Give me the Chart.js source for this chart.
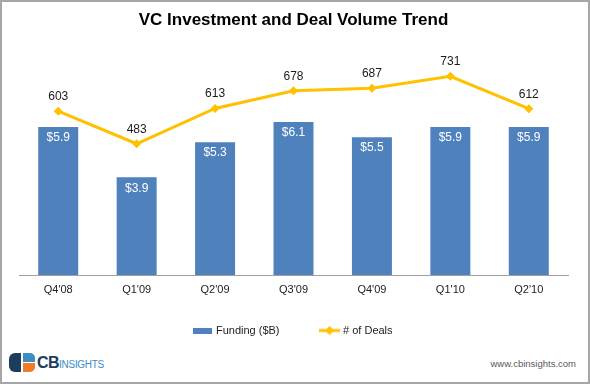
<!DOCTYPE html>
<html><head><meta charset="utf-8">
<script src="https://cdn.jsdelivr.net/npm/chart.js@4.4.1/dist/chart.umd.min.js"></script>
<style>
html,body{margin:0;padding:0;background:#fff;}
#frame{position:absolute;left:0;top:0;width:590px;height:384px;box-sizing:border-box;border:2px solid #a6a6a6;background:#fff;}
#c{position:absolute;left:0;top:0;}
#logo{position:absolute;left:9px;top:353px;height:20px;}
.lg{position:absolute;}
#brand{position:absolute;left:37px;top:354px;font-family:"Liberation Sans",Arial,sans-serif;white-space:nowrap;line-height:18px;}
#brand .cb{font-weight:bold;font-size:16px;color:#1c3d5c;letter-spacing:-0.5px;}
#brand .ins{font-size:10px;color:#3d8cc4;letter-spacing:-0.3px;}
#url{position:absolute;right:14px;top:358px;font-family:"Liberation Sans",Arial,sans-serif;font-size:9.5px;color:#5a5a5a;}
</style></head>
<body>
<div id="frame"></div>
<canvas id="c" width="590" height="346"></canvas>
<div id="logo">
  <div class="lg" style="left:0;top:0;width:12px;height:19px;background:#1c3d5c;border-radius:6px 0 0 6px;"></div>
  <div class="lg" style="left:13.5px;top:0;width:12px;height:8.5px;background:#3d8cc4;border-radius:0 5px 0 0;"></div>
  <div class="lg" style="left:13.5px;top:10px;width:12px;height:9px;background:#ef7a2a;border-radius:0 0 5px 0;"></div>
</div>
<div id="brand"><span class="cb">CB</span><span class="ins">INSIGHTS</span></div>
<div id="url">www.cbinsights.com</div>
<script>
const categories = ["Q4'08", "Q1'09", "Q2'09", "Q3'09", "Q4'09", "Q1'10", "Q2'10"];
const funding = [5.9, 3.9, 5.3, 6.1, 5.5, 5.9, 5.9];
const deals = [603, 483, 613, 678, 687, 731, 612];
const seriesNames = ["Funding ($B)", "# of Deals"];

const BLUE = '#4f81bd';
const GOLD = '#ffc000';
const FONT = '"Liberation Sans", Arial, sans-serif';

function makeBarIcon(){
  const c = document.createElement('canvas'); c.width = 19; c.height = 6;
  const x = c.getContext('2d'); x.fillStyle = BLUE; x.fillRect(0,0,19,6); return c;
}
function makeLineIcon(){
  const c = document.createElement('canvas'); c.width = 21; c.height = 10;
  const x = c.getContext('2d');
  x.strokeStyle = GOLD; x.lineWidth = 3; x.beginPath(); x.moveTo(0,5); x.lineTo(21,5); x.stroke();
  x.fillStyle = GOLD; x.beginPath(); x.moveTo(10.5,0.5); x.lineTo(15,5); x.lineTo(10.5,9.5); x.lineTo(6,5); x.closePath(); x.fill();
  return c;
}
const barIcon = makeBarIcon();
const lineIcon = makeLineIcon();

const valueLabels = {
  id: 'valueLabels',
  afterDatasetsDraw(chart){
    const ctx = chart.ctx;
    ctx.save();
    ctx.textAlign = 'center'; ctx.textBaseline = 'middle';
    ctx.font = '12px ' + FONT;
    chart.getDatasetMeta(0).data.forEach((bar, i) => {
      ctx.fillStyle = '#ffffff';
      ctx.fillText('$' + funding[i].toFixed(1), bar.x, bar.y + 11);
    });
    chart.getDatasetMeta(1).data.forEach((pt, i) => {
      ctx.fillStyle = '#1a1a1a';
      ctx.fillText(String(deals[i]), pt.x, pt.y - 14.5);
    });
    ctx.restore();
  }
};

new Chart(document.getElementById('c'), {
  data: {
    labels: categories,
    datasets: [
      { type: 'bar', label: seriesNames[0], data: funding, backgroundColor: BLUE, yAxisID: 'yBar',
        barPercentage: 1, categoryPercentage: 0.51, order: 1 },
      { type: 'line', label: seriesNames[1], data: deals, borderColor: GOLD, backgroundColor: GOLD,
        borderWidth: 3, pointStyle: 'rectRot', pointRadius: 4.5, pointHoverRadius: 4.5,
        pointBackgroundColor: GOLD, pointBorderColor: GOLD, pointBorderWidth: 0,
        tension: 0, yAxisID: 'yLine', order: 0, clip: false }
    ]
  },
  options: {
    responsive: false, animation: false, devicePixelRatio: 1,
    layout: { padding: { left: 19, right: 22, top: 0, bottom: 0 } },
    plugins: {
      title: { display: true, text: 'VC Investment and Deal Volume Trend', color: '#000',
        font: { family: FONT, size: 17, weight: 'bold' }, padding: { top: 10, bottom: 9 } },
      legend: { position: 'bottom',
        labels: { usePointStyle: true, pointStyleWidth: 16, padding: 42, color: '#222',
          font: { family: FONT, size: 11 },
          generateLabels: () => [
            { text: seriesNames[0], pointStyle: barIcon, fillStyle: BLUE, strokeStyle: BLUE, lineWidth: 0, hidden: false, datasetIndex: 0, fontColor: '#222' },
            { text: seriesNames[1], pointStyle: lineIcon, fillStyle: GOLD, strokeStyle: GOLD, lineWidth: 0, hidden: false, datasetIndex: 1, fontColor: '#222' }
          ] } },
      tooltip: { enabled: false }
    },
    scales: {
      x: { grid: { display: false, drawTicks: false }, border: { display: true, color: '#a0a0a0', width: 1 },
        ticks: { color: '#222', mirror: true, padding: -21.6, font: { family: FONT, size: 11 } },
        afterFit: (s) => { s.height = 8; } },
      yBar: { display: false, min: 0, max: 9.4 },
      yLine: { display: false, min: 0, max: 867 }
    }
  },
  plugins: [valueLabels]
});
</script>
</body></html>
